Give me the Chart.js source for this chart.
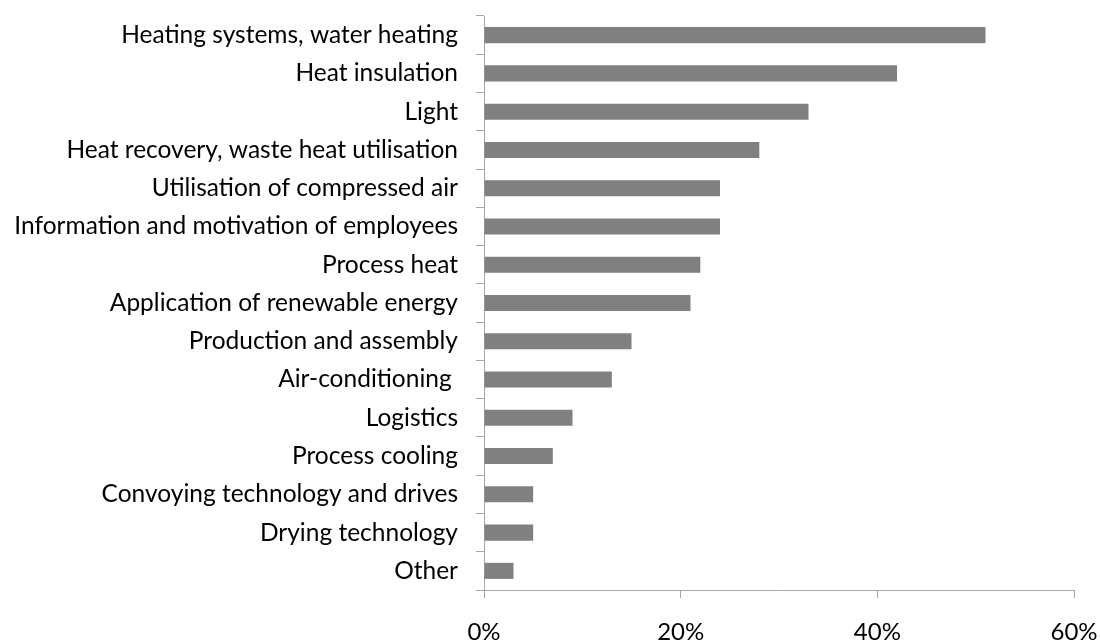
<!DOCTYPE html>
<html>
<head>
<meta charset="utf-8">
<script src="https://cdn.jsdelivr.net/npm/chart.js@4/dist/chart.umd.min.js"></script>
<style>
  html, body { margin: 0; padding: 0; background: #fff; }
  #wrap { width: 1100px; height: 640px; }
</style>
</head>
<body>
<div id="wrap"><canvas id="chart" width="1100" height="640"></canvas></div>
<script>
const categories = [
  'Heating systems, water heating',
  'Heat insulation',
  'Light',
  'Heat recovery, waste heat utilisation',
  'Utilisation of compressed air',
  'Information and motivation of employees',
  'Process heat',
  'Application of renewable energy',
  'Production and assembly',
  'Air-conditioning ',
  'Logistics',
  'Process cooling',
  'Convoying technology and drives',
  'Drying technology',
  'Other'
];
const shares = [51, 42, 33, 28, 24, 24, 22, 21, 15, 13, 9, 7, 5, 5, 3];
const xTicks = [0, 20, 40, 60];

const axisGray = '#a6a6a6';
const fontFamily = 'Lato, "Open Sans", sans-serif';

new Chart(document.getElementById('chart').getContext('2d'), {
  type: 'bar',
  data: {
    labels: categories,
    datasets: [{
      data: shares,
      backgroundColor: '#808080',
      borderWidth: 0,
      categoryPercentage: 1,
      barPercentage: 0.42
    }]
  },
  options: {
    indexAxis: 'y',
    responsive: false,
    animation: false,
    layout: { padding: { top: 16, right: 26, left: 0, bottom: 0 } },
    plugins: { legend: { display: false }, tooltip: { enabled: false } },
    scales: {
      x: {
        min: 0, max: 60,
        afterBuildTicks: (s) => { s.ticks = xTicks.map(v => ({ value: v })); },
        afterFit: (s) => { s.height = 50; s.paddingLeft = 0; s.paddingRight = 0; },
        grid: { drawOnChartArea: false, tickLength: 8, color: axisGray },
        border: { color: axisGray },
        ticks: { padding: 20, color: '#000', font: { family: fontFamily, size: 24 }, callback: v => v + '%' }
      },
      y: {
        afterFit: (s) => { s.width = 484; s.paddingTop = 0; s.paddingBottom = 0; },
        grid: { drawOnChartArea: false, tickLength: 8, color: axisGray, offset: true },
        border: { color: axisGray },
        ticks: { padding: 18, color: '#000', font: { family: fontFamily, size: 24.5 } }
      }
    }
  }
});
</script>
</body>
</html>
